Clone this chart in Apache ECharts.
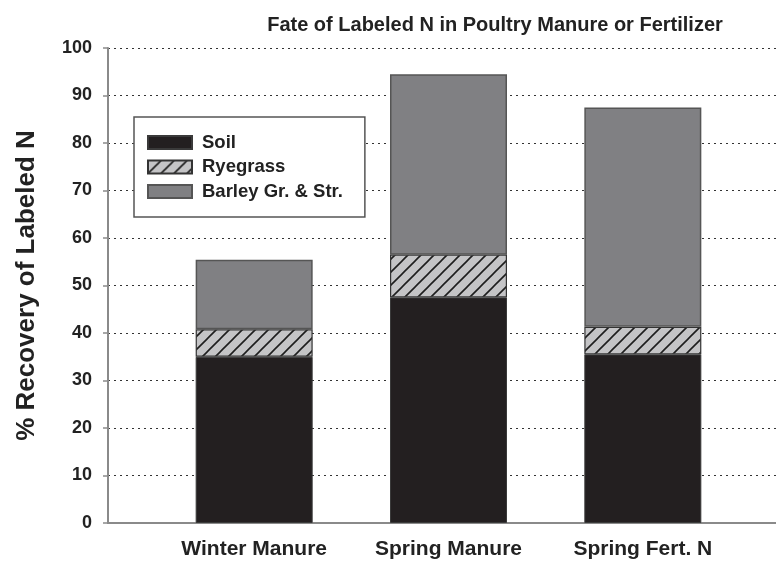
<!DOCTYPE html>
<html><head><meta charset="utf-8">
<script src="https://cdn.jsdelivr.net/npm/echarts@6/dist/echarts.min.js"></script>
<style>html,body{margin:0;padding:0;background:#fff}#c{width:776px;height:563px}</style>
</head><body><div id="c"></div>
<script>
const categories = ['Winter Manure', 'Spring Manure', 'Spring Fert. N'];
const soil = [35, 47.5, 35.5];
const ryegrass = [5.8, 9, 5.8];
const barley = [14.6, 38, 46.2];
const yTicks = [0, 10, 20, 30, 40, 50, 60, 70, 80, 90, 100];

function hatch() {
  const s = 13;
  const c = document.createElement('canvas');
  c.width = s; c.height = s;
  const g = c.getContext('2d');
  g.fillStyle = '#c4c4c6';
  g.fillRect(0, 0, s, s);
  g.strokeStyle = '#1e1e1e';
  g.lineWidth = 1.6;
  g.beginPath();
  g.moveTo(-2, s + 2); g.lineTo(s + 2, -2);
  g.moveTo(-2 - s, s + 2); g.lineTo(2, -2);
  g.moveTo(s - 2, s + 2); g.lineTo(2 * s + 2, -2);
  g.stroke();
  return c;
}

const font = '"Liberation Sans", Arial, sans-serif';
const chart = echarts.init(document.getElementById('c'), null, {renderer: 'canvas'});
chart.setOption({
  animation: false,
  backgroundColor: '#fff',
  title: {
    text: 'Fate of Labeled N in Poultry Manure or Fertilizer',
    left: 490, top: 10, textAlign: 'center',
    textStyle: {fontFamily: font, fontWeight: 'bold', fontSize: 20, color: '#222'}
  },
  legend: {
    orient: 'vertical', left: 134, top: 117, icon: 'rect',
    padding: [16, 22, 16, 13], itemGap: 5.5,
    itemWidth: 44, itemHeight: 13,
    backgroundColor: '#fff', borderColor: '#555', borderWidth: 1.5,
    textStyle: {fontFamily: font, fontWeight: 'bold', fontSize: 18.5, color: '#222', padding: [0, 0, 0, 5]},
    data: ['Soil', 'Ryegrass', 'Barley Gr. & Str.']
  },
  grid: [
    {left: 108, right: 0, top: 48, bottom: 40},
    {left: 157, right: 36, top: 48, bottom: 40}
  ],
  xAxis: [
    {gridIndex: 0, type: 'value', min: 0, max: 1, position: 'bottom',
     axisLine: {show: true, onZero: false, lineStyle: {color: '#8a8a8a', width: 2}},
     axisTick: {show: false}, axisLabel: {show: false}, splitLine: {show: false}},
    {gridIndex: 0, type: 'value', min: 0, max: 1, position: 'top',
     axisLine: {show: true, lineStyle: {color: '#8a8a8a', width: 1.5}},
     axisTick: {show: false}, axisLabel: {show: false}, splitLine: {show: false}},
    {gridIndex: 1, type: 'category', data: categories,
     axisLine: {show: false}, axisTick: {show: false},
     axisLabel: {interval: 0, hideOverlap: false, margin: 16, fontFamily: font, fontWeight: 'bold', fontSize: 21, color: '#222'}}
  ],
  yAxis: [
    {gridIndex: 0, type: 'value', min: 0, max: 100, interval: 10,
     name: '% Recovery of Labeled N', nameLocation: 'middle', nameGap: 68,
     nameTextStyle: {fontFamily: font, fontWeight: 'bold', fontSize: 26, color: '#222'},
     axisLine: {show: true, lineStyle: {color: '#8a8a8a', width: 2}},
     axisTick: {show: true, length: 5, lineStyle: {color: '#8a8a8a', width: 1.5}},
     axisLabel: {margin: 16, fontFamily: font, fontWeight: 'bold', fontSize: 18, color: '#222',
       formatter: v => yTicks.indexOf(v) >= 0 ? String(v) : ''},
     splitLine: {show: true, lineStyle: {color: '#333', type: [2, 4], width: 1.2}}},
    {gridIndex: 1, type: 'value', min: 0, max: 100, show: false}
  ],
  series: [
    {name: 'Soil', type: 'bar', stack: 's', xAxisIndex: 2, yAxisIndex: 1, barWidth: 117,
     itemStyle: {color: '#231f20', borderColor: '#3a3a3a', borderWidth: 1}, data: soil},
    {name: 'Ryegrass', type: 'bar', stack: 's', xAxisIndex: 2, yAxisIndex: 1, barWidth: 117,
     itemStyle: {color: {image: hatch(), repeat: 'repeat'}, borderColor: '#333', borderWidth: 1.2}, data: ryegrass},
    {name: 'Barley Gr. & Str.', type: 'bar', stack: 's', xAxisIndex: 2, yAxisIndex: 1, barWidth: 117,
     itemStyle: {color: '#808083', borderColor: '#555', borderWidth: 1.5}, data: barley}
  ]
});
</script></body></html>
